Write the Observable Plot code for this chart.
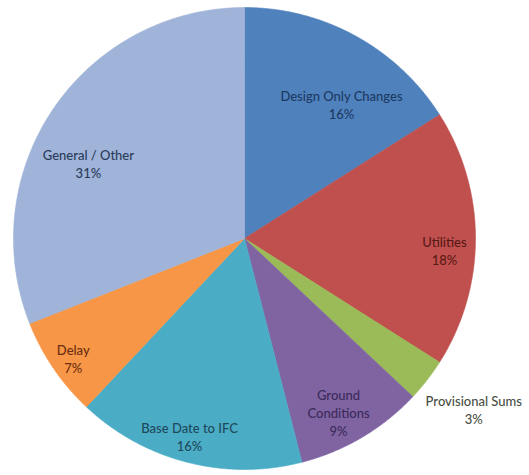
<!DOCTYPE html>
<html>
<head>
<meta charset="utf-8">
<script src="https://cdn.jsdelivr.net/npm/d3@7"></script>
<script src="https://cdn.jsdelivr.net/npm/@observablehq/plot@0.6"></script>
<style>
  html, body { margin: 0; padding: 0; background: #fff; }
  #chart { width: 529px; height: 475px; }
</style>
</head>
<body>
<div id="chart"></div>
<script>
// ---- data ----
const categories = ["Design Only Changes", "Utilities", "Provisional Sums", "Ground Conditions", "Base Date to IFC", "Delay", "General / Other"];
const labelText = ["Design Only Changes", "Utilities", "Provisional Sums", "Ground\nConditions", "Base Date to IFC", "Delay", "General / Other"];
const values = [16, 18, 3, 9, 16, 7, 31];

// ---- styles / layout ----
const fills = ["#4F81BD", "#C0504D", "#9BBB59", "#8064A2", "#4BACC6", "#F79646", "#9FB4D8"];
const textColors = ["#1c3a63", "#5a1a18", "#4a4f44", "#3b2a5a", "#1d4a5a", "#6a2e10", "#2a3a5a"];
// label placement (polar: degrees clockwise from 12 o'clock, fraction of radius)
const labelAngle = [35.9, 93.4, 126.7, 151.6, 195.5, 235, 295.7];
const labelRadius = [0.716, 0.867, 1.238, 0.856, 0.89, 0.905, 0.75];

const total = d3.sum(values);
const pie = d3.pie().sort(null).value(d => d)(values);

// slice polygons (unit circle, angle clockwise from 12 o'clock)
const pts = [];
pie.forEach((p, i) => {
  const n = Math.max(2, Math.ceil((p.endAngle - p.startAngle) / 0.005));
  pts.push({k: i, x: 0, y: 0});
  for (let j = 0; j <= n; j++) {
    const a = p.startAngle + (p.endAngle - p.startAngle) * j / n;
    pts.push({k: i, x: Math.sin(a), y: Math.cos(a)});
  }
  pts.push({k: i, x: 0, y: 0});
});

const labels = pie.map((p, i) => {
  const a = labelAngle[i] * Math.PI / 180;
  const r = labelRadius[i];
  return {
    x: r * Math.sin(a), y: r * Math.cos(a),
    text: labelText[i] + "\n" + Math.round(values[i] / total * 100) + "%",
    color: textColors[i]
  };
});

const chart = Plot.plot({
  width: 529,
  height: 475,
  margin: 0,
  x: {domain: [-1, 1], range: [13, 475], axis: null},
  y: {domain: [-1, 1], range: [469, 7], axis: null},
  style: {background: "#fff"},
  marks: [
    Plot.line(pts, {x: "x", y: "y", z: "k", fill: d => fills[d.k], stroke: d => fills[d.k], strokeWidth: 0.6, curve: "linear"}),
    Plot.text(labels, {x: "x", y: "y", text: "text", fill: "color", fontSize: 13, lineHeight: 1.38, fontFamily: "Lato, 'Open Sans', sans-serif", fontWeight: 500})
  ]
});
document.getElementById("chart").appendChild(chart);
</script>
</body>
</html>
